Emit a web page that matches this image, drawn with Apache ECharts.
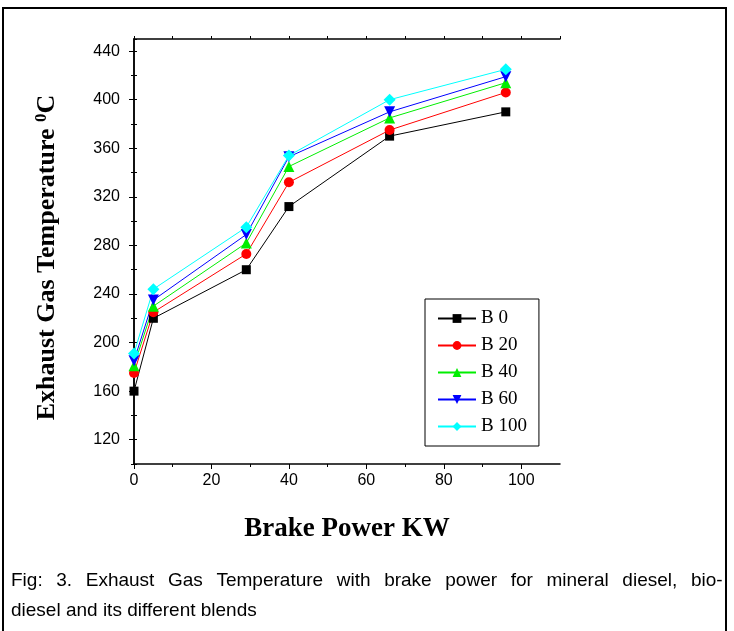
<!DOCTYPE html>
<html>
<head>
<meta charset="utf-8">
<script src="https://cdn.jsdelivr.net/npm/echarts@6/dist/echarts.min.js"></script>
<style>
  html, body { margin: 0; padding: 0; background: #fff; }
  #chart { width: 734px; height: 631px; }
</style>
</head>
<body>
<div id="chart"></div>
<script>
// brake power (KW) at each test point
const brakePower = [0, 5, 29, 40, 66, 96];

// exhaust gas temperature (deg C) per blend
const b0 = [160, 220, 260, 312, 370, 390];
const b20 = [175, 225, 273, 332, 375, 406];
const b40 = [181, 230, 282, 345, 385, 414];
const b60 = [185, 235, 289, 353, 390, 419];
const b100 = [191, 244, 295, 354, 400, 425];

const seriesNames = ['B 0', 'B 20', 'B 40', 'B 60', 'B 100'];

// tick labels
const xLabels = [0, 20, 40, 60, 80, 100];
const xMinor = [10, 30, 50, 70, 90];
const yLabels = [120, 160, 200, 240, 280, 320, 360, 400, 440];
const yMinor = [100, 140, 180, 220, 260, 300, 340, 380, 420];

const captionLine1 = 'Fig: 3. Exhaust Gas Temperature with brake power for mineral diesel, bio-';
const captionLine2 = 'diesel and its different blends';

const toPairs = (ys) => ys.map((y, i) => [brakePower[i], y]);

// first caption line is justified in the original, so widen its spaces
const justified = captionLine1.split(' ').map((w) => '{c|' + w + '}').join('{w| }');

const chart = echarts.init(document.getElementById('chart'));

const axisFont = { fontFamily: 'Liberation Sans', fontSize: 16, color: '#000' };
const blackLine = { lineStyle: { color: '#000', width: 1.5 } };
const capFont = { fontFamily: 'Liberation Sans', fontSize: 19, color: '#000', lineHeight: 30 };

const mkSeries = (name, data, color, symbol, size) => ({
  name,
  type: 'line',
  data: toPairs(data),
  symbol,
  symbolSize: size,
  showSymbol: true,
  lineStyle: { color, width: 1 },
  itemStyle: { color },
  animation: false,
});

const option = {
  animation: false,
  title: {
    text: justified + '\n{c|' + captionLine2 + '}',
    left: 6,
    top: 561,
    textStyle: {
      fontFamily: 'Liberation Sans',
      fontSize: 19,
      fontWeight: 'normal',
      color: '#000',
      lineHeight: 30,
      rich: {
        c: capFont,
        w: { ...capFont, fontSize: 49 },
      },
    },
  },
  graphic: [
    {
      type: 'rect',
      shape: { x: 3, y: 8, width: 723, height: 640 },
      style: { fill: 'none', stroke: '#000', lineWidth: 2 },
      silent: true,
    },
  ],
  grid: { left: 134, right: 174, top: 39, bottom: 167 },
  legend: {
    orient: 'vertical',
    left: 425,
    top: 299,
    padding: [10, 12],
    itemGap: 8,
    itemWidth: 38,
    itemHeight: 11,
    borderColor: '#000',
    borderWidth: 1,
    borderRadius: 0,
    textStyle: { fontFamily: 'Liberation Serif', fontSize: 19, color: '#000' },
    data: seriesNames,
  },
  xAxis: [
    {
      type: 'value',
      position: 'bottom',
      min: 0,
      max: 110,
      interval: 10,
      name: 'Brake Power KW',
      nameLocation: 'middle',
      nameGap: 52,
      nameTextStyle: { fontFamily: 'Liberation Serif', fontSize: 27, fontWeight: 'bold', color: '#000' },
      axisLine: blackLine,
      axisTick: { show: true, length: 5, customValues: xLabels, lineStyle: { color: '#000' } },
      axisLabel: { customValues: xLabels, margin: 9, ...axisFont },
      splitLine: { show: false },
    },
    {
      type: 'value',
      position: 'bottom',
      min: 0,
      max: 110,
      interval: 10,
      axisLine: { show: false },
      axisTick: { show: true, length: 3, customValues: xMinor, lineStyle: { color: '#000' } },
      axisLabel: { show: false },
      splitLine: { show: false },
    },
    {
      type: 'value',
      position: 'top',
      min: 0,
      max: 110,
      interval: 10,
      axisLine: blackLine,
      axisTick: { show: true, length: 3, lineStyle: { color: '#000' } },
      axisLabel: { show: false },
      splitLine: { show: false },
    },
  ],
  yAxis: [
    {
      type: 'value',
      position: 'left',
      min: 100,
      max: 450,
      interval: 20,
      name: '{t|Exhaust Gas Temperature }{s|0}{t|C}',
      nameLocation: 'middle',
      nameGap: 72,
      nameTextStyle: {
        padding: [0, 12, 0, 0],
        rich: {
          t: { fontFamily: 'Liberation Serif', fontSize: 26, fontWeight: 'bold', color: '#000' },
          s: { fontFamily: 'Liberation Serif', fontSize: 17, fontWeight: 'bold', color: '#000', verticalAlign: 'top', padding: [0, 0, 12, 0] },
        },
      },
      axisLine: blackLine,
      axisTick: { show: true, length: 5, customValues: yLabels, lineStyle: { color: '#000' } },
      axisLabel: { customValues: yLabels, margin: 14, ...axisFont },
      splitLine: { show: false },
    },
    {
      type: 'value',
      position: 'left',
      min: 100,
      max: 450,
      interval: 20,
      axisLine: { show: false },
      axisTick: { show: true, length: 3, customValues: yMinor, lineStyle: { color: '#000' } },
      axisLabel: { show: false },
      splitLine: { show: false },
    },
    {
      type: 'value',
      position: 'right',
      min: 100,
      max: 450,
      interval: 20,
      axisLine: blackLine,
      axisTick: { show: true, length: 3, lineStyle: { color: '#000' } },
      axisLabel: { show: false },
      splitLine: { show: false },
    },
  ],
  series: [
    mkSeries('B 0', b0, '#000000', 'rect', 9),
    mkSeries('B 20', b20, '#ff0000', 'circle', 10),
    mkSeries('B 40', b40, '#00ee00', 'triangle', 11),
    mkSeries('B 60', b60, '#0000ff', 'path://M0,0 L10,0 L5,9 Z', 11),
    mkSeries('B 100', b100, '#00ffff', 'diamond', 12),
  ],
};

chart.setOption(option);
</script>
</body>
</html>
